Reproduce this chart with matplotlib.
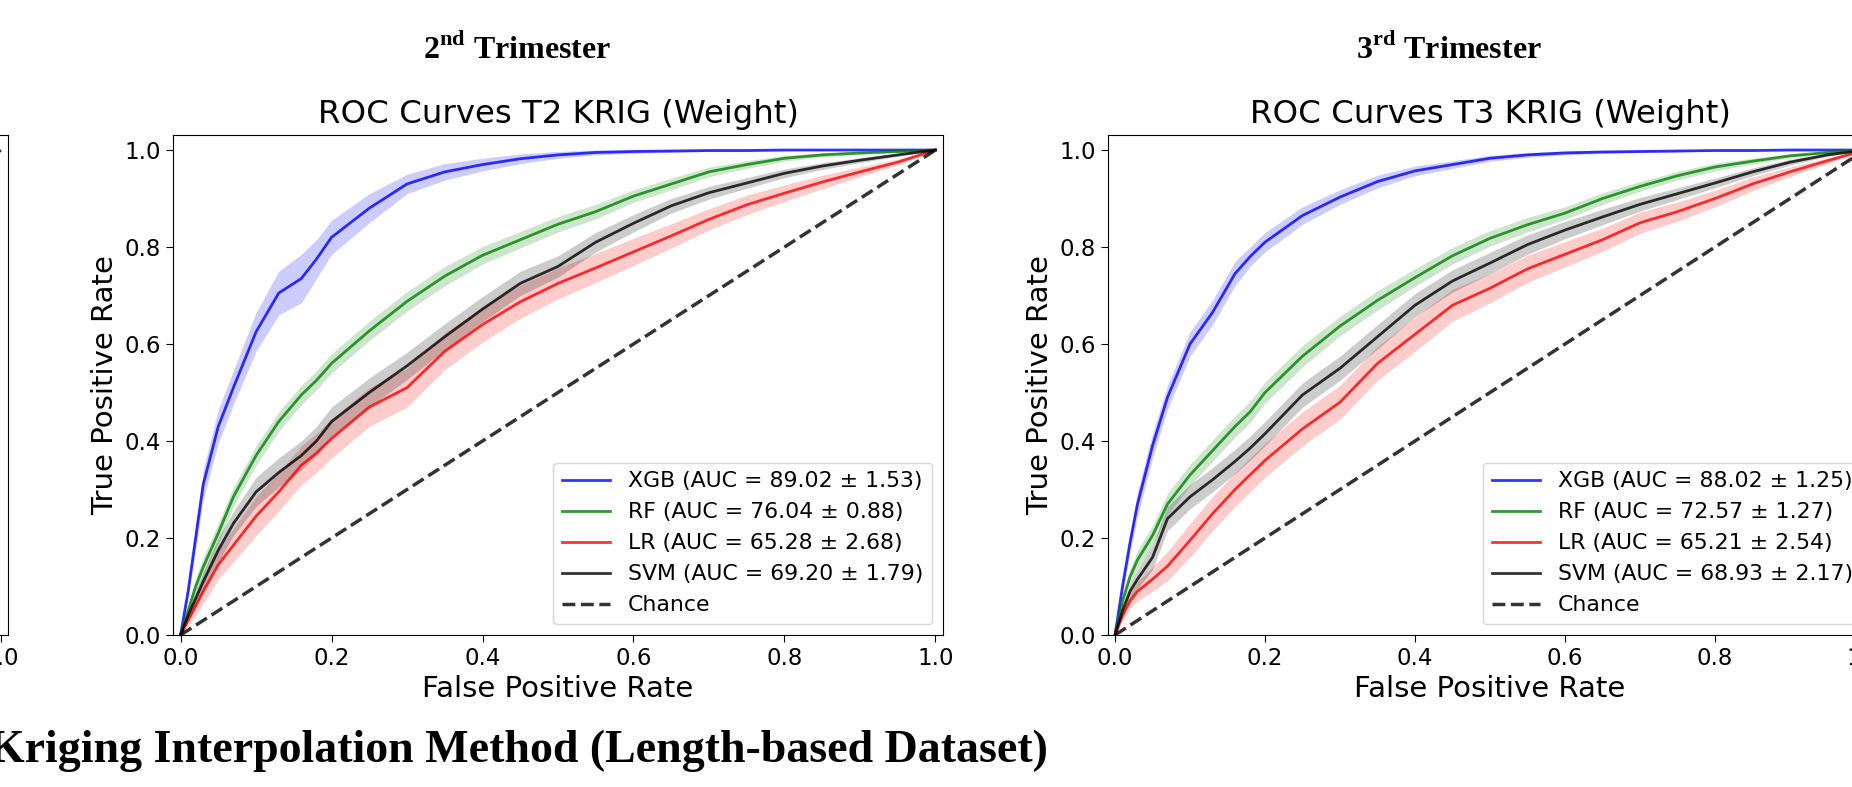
import numpy as np
import matplotlib.pyplot as plt

# ============================================================
# data
# ============================================================

FPR = [0, .01, .02, .03, .05, .07, .10, .13, .16, .18, .20, .25, .30, .35,
       .40, .45, .50, .55, .60, .65, .70, .75, .80, .85, .90, .95, 1.0]

MODELS = ["XGB", "RF", "LR", "SVM"]
COLORS = ["blue", "green", "red", "black"]

# 2nd trimester
T2_AUC = [89.02, 76.04, 65.28, 69.20]
T2_AUC_SD = [1.53, 0.88, 2.68, 1.79]

T2_XGB = [0, .09, .20, .31, .43, .51, .625, .705, .735, .775, .82, .88, .93, .955,
          .97, .982, .99, .995, .997, .998, .999, .999, 1, 1, 1, 1, 1]
T2_XGB_SD = [0, .015, .025, .03, .035, .035, .04, .045, .05, .04, .035, .03, .02, .017,
             .013, .01, .007, .005, .004, .003, .002, .002, .001, .001, 0, 0, 0]

T2_RF = [0, .05, .10, .14, .21, .285, .37, .44, .495, .525, .56, .627, .688, .74,
         .783, .815, .847, .873, .905, .93, .955, .97, .983, .99, .994, .997, 1]
T2_RF_SD = [0, .01, .015, .02, .02, .02, .02, .02, .02, .02, .02, .02, .02, .02,
            .018, .017, .016, .015, .013, .012, .01, .008, .006, .004, .003, .002, 0]

T2_LR = [0, .03, .06, .09, .145, .185, .245, .295, .35, .375, .405, .47, .51, .585,
         .64, .687, .725, .757, .79, .823, .857, .887, .911, .934, .955, .975, 1]
T2_LR_SD = [0, .01, .02, .025, .03, .035, .04, .04, .04, .04, .04, .04, .04, .038,
            .036, .034, .032, .03, .028, .025, .022, .02, .017, .014, .01, .006, 0]

T2_SVM = [0, .04, .075, .11, .175, .23, .295, .335, .37, .40, .44, .50, .555, .615,
          .672, .725, .76, .81, .849, .885, .912, .932, .952, .967, .979, .99, 1]
T2_SVM_SD = [0, .01, .015, .02, .025, .025, .03, .03, .03, .03, .03, .03, .028, .027,
             .026, .025, .022, .02, .018, .015, .013, .011, .009, .007, .005, .003, 0]

# 3rd trimester
T3_AUC = [88.02, 72.57, 65.21, 68.93]
T3_AUC_SD = [1.25, 1.27, 2.54, 2.17]

T3_XGB = [0, .10, .19, .27, .39, .49, .60, .665, .745, .78, .81, .865, .903, .935,
          .957, .97, .983, .99, .994, .996, .997, .998, .999, .999, 1, 1, 1]
T3_XGB_SD = [0, .015, .02, .025, .025, .025, .025, .025, .025, .02, .02, .018, .015, .013,
             .01, .008, .006, .005, .004, .003, .002, .002, .001, .001, 0, 0, 0]

T3_RF = [0, .07, .12, .155, .205, .27, .33, .38, .43, .46, .50, .575, .637, .69,
         .737, .782, .818, .846, .87, .90, .925, .947, .965, .977, .988, .995, 1]
T3_RF_SD = [0, .01, .015, .02, .02, .022, .022, .022, .022, .022, .022, .022, .02, .02,
            .018, .017, .016, .015, .013, .012, .01, .009, .008, .006, .004, .002, 0]

T3_LR = [0, .04, .07, .09, .115, .142, .195, .25, .30, .33, .36, .425, .48, .56,
         .62, .68, .715, .755, .785, .815, .85, .873, .90, .93, .955, .978, 1]
T3_LR_SD = [0, .01, .015, .02, .025, .03, .035, .035, .035, .035, .035, .035, .035, .035,
            .035, .033, .03, .028, .026, .024, .022, .02, .017, .014, .01, .006, 0]

T3_SVM = [0, .05, .09, .115, .16, .24, .285, .32, .358, .385, .415, .495, .55, .615,
          .68, .73, .767, .805, .835, .862, .888, .91, .932, .955, .975, .99, 1]
T3_SVM_SD = [0, .01, .015, .02, .025, .025, .025, .025, .025, .025, .025, .025, .025, .025,
             .024, .023, .022, .02, .018, .016, .014, .012, .01, .008, .006, .003, 0]

# ============================================================
# style
# ============================================================

plt.rcParams['mathtext.fontset'] = 'custom'
plt.rcParams['mathtext.rm'] = 'Liberation Serif:bold'

W, H = 1852, 787
TICK_FS = 16.5
LABEL_FS = 21
TITLE_FS = 23.3
LEGEND_FS = 15.8
SERIF = dict(family="Liberation Serif", weight="bold")


def setup_axes(ax):
    ax.set_xlim(-0.01, 1.01)
    ax.set_ylim(0.0, 1.031)
    ax.set_xticks(np.arange(0, 1.01, 0.2))
    ax.set_yticks(np.arange(0, 1.01, 0.2))
    ax.tick_params(labelsize=TICK_FS, length=5)


def draw_panel(ax, curves, sds, aucs, auc_sds, title):
    fpr = np.array(FPR)
    for name, color, tpr, sd, auc, asd in zip(MODELS, COLORS, curves, sds, aucs, auc_sds):
        tpr = np.array(tpr)
        sd = np.array(sd)
        ax.plot(fpr, tpr, color=color, lw=2, alpha=0.8,
                label=f"{name} (AUC = {auc:.2f} ± {asd:.2f})")
        ax.fill_between(fpr, np.maximum(tpr - sd, 0), np.minimum(tpr + sd, 1),
                        color=color, alpha=0.2, lw=0)
    ax.plot([0, 1], [0, 1], linestyle="--", color="black", lw=2.5, alpha=0.8,
            label="Chance")
    setup_axes(ax)
    ax.set_xlabel("False Positive Rate", fontsize=LABEL_FS)
    ax.set_ylabel("True Positive Rate", fontsize=LABEL_FS)
    ax.set_title(title, fontsize=TITLE_FS, pad=8.5)
    ax.legend(loc="lower right", fontsize=LEGEND_FS, handlelength=2.2)


fig = plt.figure(figsize=(W / 100, H / 100), dpi=100)

bottom = (H - 635) / H
height = 500 / H

# left panel (1st trimester), almost entirely outside the crop
ax_l = fig.add_axes([(8.4 - 770) / W, bottom, 770 / W, height])
ax_l.plot([0, 1], [0, 1], linestyle="--", color="black", lw=2.5, alpha=0.8)
setup_axes(ax_l)

ax_m = fig.add_axes([173 / W, bottom, 770 / W, height])
draw_panel(ax_m, [T2_XGB, T2_RF, T2_LR, T2_SVM],
           [T2_XGB_SD, T2_RF_SD, T2_LR_SD, T2_SVM_SD],
           T2_AUC, T2_AUC_SD, "ROC Curves T2 KRIG (Weight)")

ax_r = fig.add_axes([1107.5 / W, bottom, 765 / W, height])
draw_panel(ax_r, [T3_XGB, T3_RF, T3_LR, T3_SVM],
           [T3_XGB_SD, T3_RF_SD, T3_LR_SD, T3_SVM_SD],
           T3_AUC, T3_AUC_SD, "ROC Curves T3 KRIG (Weight)")

fig.text(517 / W, 1 - 58 / H, r"2$^{\mathrm{nd}}$ Trimester", ha="center",
         va="baseline", fontsize=23, **SERIF)
fig.text(1449 / W, 1 - 58 / H, r"3$^{\mathrm{rd}}$ Trimester", ha="center",
         va="baseline", fontsize=23, **SERIF)
fig.text(1048 / W, 1 - 762 / H, "Kriging Interpolation Method (Length-based Dataset)",
         ha="right", va="baseline", fontsize=33, **SERIF)

fig.savefig("out.png", dpi=100)
